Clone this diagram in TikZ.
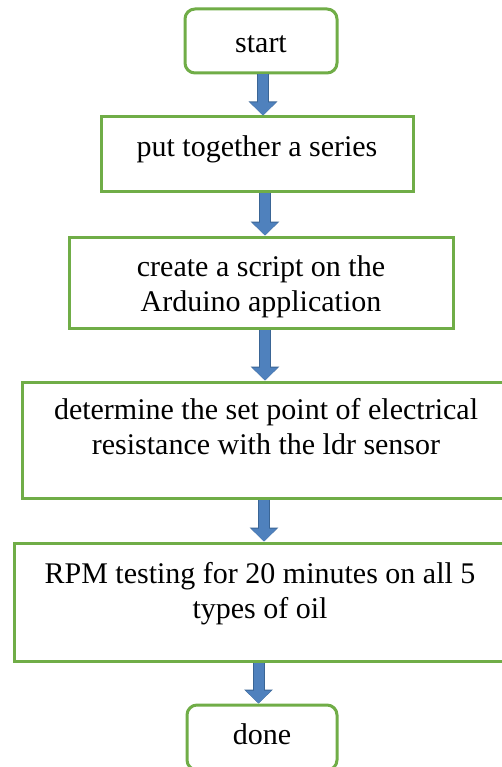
\documentclass[tikz,border=0pt]{standalone}
\usepackage{fontspec}
\setmainfont{Liberation Serif}
\usetikzlibrary{arrows.meta}
\definecolor{boxgreen}{HTML}{70AD47}
\definecolor{arrowfill}{HTML}{4F81BD}
\definecolor{arrowedge}{HTML}{3A6595}
\tikzset{
  flowbox/.style={draw=boxgreen, line width=3pt, fill=white, align=center,
    font=\fontsize{30}{35}\selectfont, text height=22pt, inner sep=0pt},
  endbox/.style={flowbox, rounded corners=10pt},
  flowarrow/.style={line width=10pt, draw=arrowfill, -{Triangle[width=25pt,length=13pt]},
    preaction={draw=arrowedge, line width=12pt, -{Triangle[width=28pt,length=14pt]}}}
}
\begin{document}
\begin{tikzpicture}[x=1pt,y=-1pt]
    \useasboundingbox (0,0) rectangle (502,767);
    \fill[white] (0,0) rectangle (502,767);
    \clip (0,0) rectangle (502,767);
    % steps
    \node[endbox, minimum width=152pt, minimum height=64pt, text height=23pt, text depth=0pt] (start) at (261,41) {start};
    \node[flowbox, minimum width=312pt, minimum height=75pt, text height=24pt, text depth=19pt] (series) at (257,154.5) {put together a series};
    \node[flowbox, minimum width=384pt, minimum height=91pt, text height=60pt, text depth=3pt] (script) at (261,282.5) {create a script on the\\Arduino application};
    \node[flowbox, minimum width=488pt, minimum height=116pt, text height=59pt, text depth=31pt] (setpoint) at (266,440) {determine the set point of electrical\\resistance with the ldr sensor};
    \node[flowbox, minimum width=492pt, minimum height=118pt, text height=58pt, text depth=26pt] (rpm) at (260,602) {RPM testing for 20 minutes on all 5\\types of oil};
    \node[endbox, minimum width=150pt, minimum height=65pt, text depth=8pt] (done) at (262,737.5) {done};
    % arrows
    \draw[flowarrow] ([xshift=2pt]start.south) -- ([xshift=2pt]start.south |- series.north);
    \draw[flowarrow] ([xshift=8pt]series.south) -- ([xshift=8pt]series.south |- script.north);
    \draw[flowarrow] ([xshift=4pt]script.south) -- ([xshift=4pt]script.south |- setpoint.north);
    \draw[flowarrow] ([xshift=-2pt]setpoint.south) -- ([xshift=-2pt]setpoint.south |- rpm.north);
    \draw[flowarrow] ([xshift=-1.5pt]rpm.south) -- ([xshift=-1.5pt]rpm.south |- done.north);
\end{tikzpicture}
\end{document}
